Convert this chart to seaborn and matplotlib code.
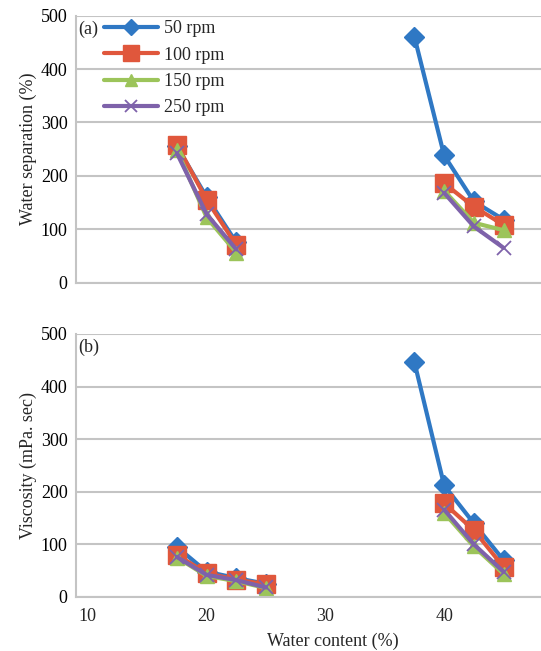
import matplotlib
matplotlib.use("Agg")
import matplotlib.pyplot as plt
from matplotlib.ticker import MultipleLocator
import seaborn as sns
import pandas as pd

# series names and styling keys
speeds = ["50 rpm", "100 rpm", "150 rpm", "250 rpm"]

# (a) water separation (%) vs water content (%)
sep_x_low = [17.5, 20, 22.5]
sep_x_high_50 = [37.5, 40, 42.5, 45]
sep_x_high = [40, 42.5, 45]
sep_50_low = [255, 160, 75]
sep_50_high = [460, 238, 152, 118]
sep_100_low = [258, 155, 70]
sep_100_high = [186, 142, 108]
sep_150_low = [248, 122, 56]
sep_150_high = [172, 112, 98]
sep_250_low = [242, 128, 62]
sep_250_high = [168, 105, 65]

# (b) viscosity (mPa. sec) vs water content (%)
visc_x_low = [17.5, 20, 22.5, 25]
visc_x_high_50 = [37.5, 40, 42.5, 45]
visc_x_high = [40, 42.5, 45]
visc_50_low = [95, 48, 36, 25]
visc_50_high = [446, 212, 140, 70]
visc_100_low = [80, 45, 33, 24]
visc_100_high = [178, 127, 57]
visc_150_low = [75, 40, 30, 17]
visc_150_high = [160, 96, 44]
visc_250_low = [76, 42, 32, 18]
visc_250_high = [166, 100, 48]

colors = {"50 rpm": "#2f78c4", "100 rpm": "#e0573c", "150 rpm": "#9cc45a", "250 rpm": "#7e62aa"}
markers = {"50 rpm": "D", "100 rpm": "s", "150 rpm": "^", "250 rpm": "x"}
msizes = {"50 rpm": 10, "100 rpm": 13, "150 rpm": 10.5, "250 rpm": 10}


def build_frame(x_low, x_high_50, x_high, series):
    rows = []
    for speed, (low, high) in zip(speeds, series):
        xh = x_high_50 if speed == "50 rpm" else x_high
        for x, y in zip(x_low, low):
            rows.append((speed, "low", x, y))
        for x, y in zip(xh, high):
            rows.append((speed, "high", x, y))
    return pd.DataFrame(rows, columns=["speed", "segment", "x", "y"])


sep_df = build_frame(sep_x_low, sep_x_high_50, sep_x_high,
                     [(sep_50_low, sep_50_high), (sep_100_low, sep_100_high),
                      (sep_150_low, sep_150_high), (sep_250_low, sep_250_high)])
visc_df = build_frame(visc_x_low, visc_x_high_50, visc_x_high,
                      [(visc_50_low, visc_50_high), (visc_100_low, visc_100_high),
                       (visc_150_low, visc_150_high), (visc_250_low, visc_250_high)])

sns.set_theme(style="white")
plt.rcParams["font.family"] = ["Liberation Serif", "DejaVu Serif"]
plt.rcParams["font.size"] = 13

grid_col = "#c4c4c4"


def draw_panel(ax, df, ylabel, tag):
    for speed in speeds:
        sub = df[df["speed"] == speed]
        mew = 1.3 if markers[speed] == "x" else 1
        sns.lineplot(data=sub, x="x", y="y", units="segment", estimator=None, sort=False,
                     ax=ax, color=colors[speed], lw=3, marker=markers[speed],
                     markersize=msizes[speed], markeredgecolor=colors[speed],
                     markeredgewidth=mew, label=speed)
    ax.set_xlim(9, 50)
    ax.set_ylim(0, 500)
    ax.set_yticks([0, 100, 200, 300, 400, 500])
    ax.xaxis.set_major_locator(MultipleLocator(10))
    ax.xaxis.set_minor_locator(MultipleLocator(2.5))
    ax.grid(axis="y", color=grid_col, lw=1.5)
    ax.set_axisbelow(True)
    for side in ["top", "right"]:
        ax.spines[side].set_visible(False)
    for side in ["left", "bottom"]:
        ax.spines[side].set_color(grid_col)
        ax.spines[side].set_linewidth(1.5)
    ax.tick_params(axis="y", length=0, pad=6, labelsize=13, colors="black")
    ax.tick_params(axis="x", which="both", direction="in", length=5, color="#999999",
                   pad=8, labelsize=13)
    ax.set_ylabel(ylabel, fontsize=13, labelpad=3)
    ax.text(0.004, 0.95, tag, transform=ax.transAxes, fontsize=13, va="center", ha="left")


fig = plt.figure(figsize=(5.41, 6.51), dpi=100)
ax_a = fig.add_axes([0.1405, 0.566, 0.900, 0.410])
ax_b = fig.add_axes([0.1405, 0.083, 0.900, 0.404])

draw_panel(ax_a, sep_df, "Water separation (%)", "(a)")
draw_panel(ax_b, visc_df, "Viscosity (mPa. sec)", "(b)")

ax_a.set_xlabel("")
ax_a.tick_params(axis="x", labelbottom=False)
ax_b.set_xlabel("Water content (%)", fontsize=13)
ax_b.xaxis.set_label_coords(0.528, -0.137)

# one legend entry per series (lines are split into segments)
handles, labels = ax_a.get_legend_handles_labels()
uniq = dict(zip(labels, handles))
leg = ax_a.legend(uniq.values(), uniq.keys(), loc="upper left", bbox_to_anchor=(0.031, 1.03),
                  frameon=False, fontsize=13, handlelength=3.0, handletextpad=0.33,
                  labelspacing=0.52, borderpad=0.2, markerscale=0.85)

ax_b.get_legend().remove()

fig.savefig("out.png", dpi=100)
